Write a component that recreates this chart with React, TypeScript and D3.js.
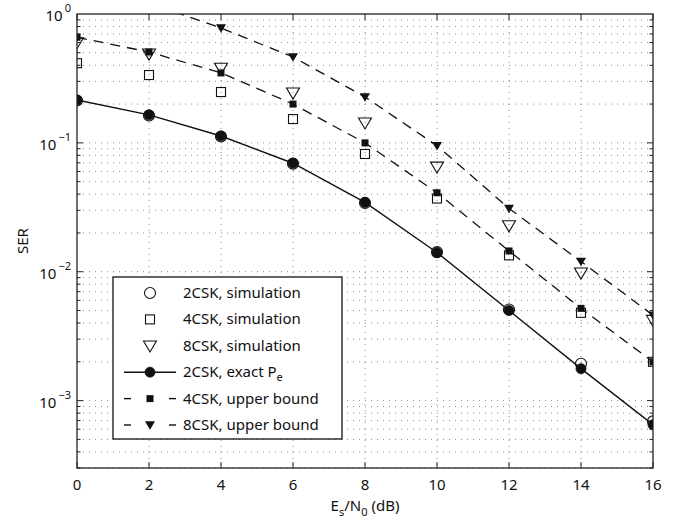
import React, { useRef, useEffect } from 'react'
import * as d3 from 'd3'

const snr = [0, 2, 4, 6, 8, 10, 12, 14, 16]
const xTicks = [0, 2, 4, 6, 8, 10, 12, 14, 16]
const yDecades = [0, -1, -2, -3]

const sim2 = [0.213, 0.163, 0.112, 0.069, 0.0342, 0.0142, 0.0051, 0.00193, 0.00069]
const exact2 = [0.215, 0.165, 0.113, 0.0695, 0.0345, 0.0141, 0.005, 0.00177, 0.00065]
const sim4 = [0.415, 0.336, 0.248, 0.153, 0.082, 0.037, 0.0134, 0.0048, 0.002]
const bound4 = [0.66, 0.507, 0.349, 0.2, 0.1, 0.041, 0.0145, 0.0052, 0.002]
const sim8 = [0.6, 0.49, 0.38, 0.244, 0.143, 0.065, 0.0228, 0.0098, 0.0042]
const bound8 = [1.8, 1.22, 0.778, 0.464, 0.227, 0.095, 0.031, 0.012, 0.0046]

const legendItems = [
  { label: '2CSK, simulation', marker: 'circleOpen', line: null },
  { label: '4CSK, simulation', marker: 'squareOpen', line: null },
  { label: '8CSK, simulation', marker: 'triOpen', line: null },
  { label: '2CSK, exact P', sub: 'e', marker: 'circleFill', line: 'solid' },
  { label: '4CSK, upper bound', marker: 'squareFill', line: 'dash' },
  { label: '8CSK, upper bound', marker: 'triFill', line: 'dash' },
]

const FONT = '"Noto Sans", "Open Sans", sans-serif'

function drawMarker(g: any, kind: string, cx: number, cy: number) {
  if (kind === 'circleOpen') {
    g.append('circle').attr('cx', cx).attr('cy', cy).attr('r', 5.5)
      .attr('fill', 'none').attr('stroke', '#111').attr('stroke-width', 1.1)
  } else if (kind === 'circleFill') {
    g.append('circle').attr('cx', cx).attr('cy', cy).attr('r', 5)
      .attr('fill', '#111').attr('stroke', '#111').attr('stroke-width', 0.8)
  } else if (kind === 'squareOpen') {
    g.append('rect').attr('x', cx - 4.5).attr('y', cy - 4.5).attr('width', 9).attr('height', 9)
      .attr('fill', 'none').attr('stroke', '#111').attr('stroke-width', 1.1)
  } else if (kind === 'squareFill') {
    g.append('rect').attr('x', cx - 3.5).attr('y', cy - 3.5).attr('width', 7).attr('height', 7)
      .attr('fill', '#111')
  } else if (kind === 'triOpen') {
    const s = 6.5
    g.append('path').attr('d', `M${cx - s},${cy - s * 0.75}L${cx + s},${cy - s * 0.75}L${cx},${cy + s * 0.95}Z`)
      .attr('fill', 'none').attr('stroke', '#111').attr('stroke-width', 1.1)
  } else if (kind === 'triFill') {
    const s = 5
    g.append('path').attr('d', `M${cx - s},${cy - s * 0.75}L${cx + s},${cy - s * 0.75}L${cx},${cy + s * 0.95}Z`)
      .attr('fill', '#111')
  }
}

export default function App() {
  const svgRef = useRef<SVGSVGElement>(null)

  useEffect(() => {
    document.body.style.margin = '0'
    const svg = d3.select(svgRef.current)
    svg.selectAll('*').remove()

    const width = 691, height = 523
    const left = 77, right = 653, top = 14, bottom = 468

    const x = d3.scaleLinear().domain([0, 16]).range([left, right])
    const y = d3.scaleLog().domain([3e-4, 1]).range([bottom, top])

    svg.attr('width', width).attr('height', height)
    svg.append('rect').attr('width', width).attr('height', height).attr('fill', '#fff')

    svg.append('defs').append('clipPath').attr('id', 'plotclip')
      .append('rect').attr('x', left).attr('y', top).attr('width', right - left).attr('height', bottom - top)

    const grid = svg.append('g').attr('stroke', '#8a8a8a').attr('stroke-width', 1)
      .attr('stroke-dasharray', '1,5')

    // vertical grid at major x ticks
    xTicks.slice(1, -1).forEach(t => {
      grid.append('line').attr('x1', x(t)).attr('x2', x(t)).attr('y1', top).attr('y2', bottom)
    })

    // horizontal grid at every minor log tick
    const minors: number[] = []
    for (let e = -4; e <= 0; e++) {
      for (let m = 1; m <= 9; m++) {
        const v = m * Math.pow(10, e)
        if (v > 3e-4 && v < 1) minors.push(v)
      }
    }
    minors.forEach(v => {
      grid.append('line').attr('x1', left).attr('x2', right).attr('y1', y(v)).attr('y2', y(v))
    })

    // ticks
    const ticks = svg.append('g').attr('stroke', '#222').attr('stroke-width', 1)
    xTicks.forEach(t => {
      ticks.append('line').attr('x1', x(t)).attr('x2', x(t)).attr('y1', bottom).attr('y2', bottom - 6)
      ticks.append('line').attr('x1', x(t)).attr('x2', x(t)).attr('y1', top).attr('y2', top + 6)
    })
    minors.forEach(v => {
      const major = Math.abs(Math.log10(v) - Math.round(Math.log10(v))) < 1e-9
      const len = major ? 6 : 3.5
      ticks.append('line').attr('x1', left).attr('x2', left + len).attr('y1', y(v)).attr('y2', y(v))
      ticks.append('line').attr('x1', right).attr('x2', right - len).attr('y1', y(v)).attr('y2', y(v))
    })

    // series
    const plot = svg.append('g').attr('clip-path', 'url(#plotclip)')
    const line = d3.line<number>().x((_, i) => x(snr[i])).y(d => y(d))

    plot.append('path').attr('d', line(exact2)).attr('fill', 'none')
      .attr('stroke', '#111').attr('stroke-width', 1.4)
    plot.append('path').attr('d', line(bound4)).attr('fill', 'none')
      .attr('stroke', '#111').attr('stroke-width', 1.3).attr('stroke-dasharray', '10,7')
    plot.append('path').attr('d', line(bound8)).attr('fill', 'none')
      .attr('stroke', '#111').attr('stroke-width', 1.3).attr('stroke-dasharray', '10,7')

    const series: [number[], string][] = [
      [exact2, 'circleFill'], [bound4, 'squareFill'], [bound8, 'triFill'],
      [sim2, 'circleOpen'], [sim4, 'squareOpen'], [sim8, 'triOpen'],
    ]
    series.forEach(([vals, kind]) => {
      vals.forEach((v, i) => {
        if (v <= 1) drawMarker(plot, kind, x(snr[i]), y(v))
      })
    })

    // axes box
    svg.append('rect').attr('x', left).attr('y', top).attr('width', right - left).attr('height', bottom - top)
      .attr('fill', 'none').attr('stroke', '#222').attr('stroke-width', 1.3)

    // tick labels
    xTicks.forEach(t => {
      svg.append('text').attr('x', x(t)).attr('y', 490).attr('text-anchor', 'middle')
        .attr('font-family', FONT).attr('font-size', 15).attr('fill', '#111').text(t)
    })
    yDecades.forEach(e => {
      const yy = y(Math.pow(10, e))
      const t = svg.append('text').attr('x', 71).attr('y', yy + 7).attr('text-anchor', 'end')
        .attr('font-family', FONT).attr('font-size', 15).attr('fill', '#111')
      t.append('tspan').text('10')
      t.append('tspan').attr('dx', 2).attr('dy', -9).attr('font-size', 11).text(e === 0 ? '0' : '\u2212' + Math.abs(e))
    })

    // axis labels
    svg.append('text').attr('transform', `translate(28,${(top + bottom) / 2}) rotate(-90)`)
      .attr('text-anchor', 'middle').attr('font-family', FONT).attr('font-size', 15).attr('fill', '#111')
      .text('SER')
    const xl = svg.append('text').attr('x', x(8)).attr('y', 511).attr('text-anchor', 'middle')
      .attr('font-family', FONT).attr('font-size', 15).attr('fill', '#111')
    xl.append('tspan').text('E')
    xl.append('tspan').attr('dy', 5).attr('font-size', 11).text('s')
    xl.append('tspan').attr('dy', -5).text('/N')
    xl.append('tspan').attr('dy', 5).attr('font-size', 11).text('0')
    xl.append('tspan').attr('dy', -5).text(' (dB)')

    // legend
    const lg = svg.append('g')
    lg.append('rect').attr('x', 113).attr('y', 277).attr('width', 229).attr('height', 162)
      .attr('fill', '#fff').attr('stroke', '#222').attr('stroke-width', 1.4)
    legendItems.forEach((it, i) => {
      const cy = 293 + i * 26.4
      if (it.line) {
        if (it.line === 'solid') {
          lg.append('line').attr('x1', 124).attr('x2', 176).attr('y1', cy).attr('y2', cy)
            .attr('stroke', '#111').attr('stroke-width', 1.4)
        } else {
          lg.append('line').attr('x1', 124).attr('x2', 131).attr('y1', cy).attr('y2', cy)
            .attr('stroke', '#111').attr('stroke-width', 1.4)
          lg.append('line').attr('x1', 169).attr('x2', 176).attr('y1', cy).attr('y2', cy)
            .attr('stroke', '#111').attr('stroke-width', 1.4)
        }
      }
      drawMarker(lg, it.marker, 150, cy)
      const t = lg.append('text').attr('x', 183).attr('y', cy + 5)
        .attr('font-family', FONT).attr('font-size', 15).attr('fill', '#111')
      t.append('tspan').text(it.label)
      if (it.sub) t.append('tspan').attr('dy', 4).attr('font-size', 11).text(it.sub)
    })
  }, [])

  return <svg ref={svgRef} style={{ display: 'block' }} />
}
